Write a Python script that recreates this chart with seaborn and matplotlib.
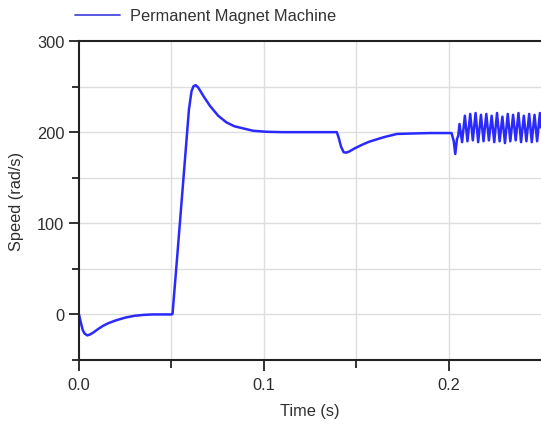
import numpy as np
import pandas as pd
import matplotlib
matplotlib.use("Agg")
import matplotlib.pyplot as plt
import seaborn as sns

# ---- data ----
time_s = [0.0, 0.001, 0.002, 0.003, 0.0045, 0.006, 0.008, 0.010, 0.013, 0.016,
          0.020, 0.025, 0.030, 0.035, 0.040, 0.045, 0.0500, 0.0506, 0.0530, 0.0560,
          0.0595, 0.0609, 0.0620, 0.0632, 0.0645, 0.0672, 0.0708, 0.0753, 0.0798, 0.0840,
          0.0870, 0.0942, 0.1015, 0.110, 0.120, 0.130,
          0.1395, 0.1405, 0.1418, 0.1432, 0.1445, 0.146, 0.149, 0.153, 0.157, 0.161,
          0.165, 0.169, 0.172, 0.180, 0.190, 0.2016, 0.2028, 0.2036, 0.2045, 0.2052]
speed = [0.0, -9.0, -17.0, -21.0, -23.0, -22.0, -19.5, -16.5, -12.5, -9.5,
         -6.5, -3.5, -1.5, -0.5, 0.0, 0.0, 0.0, 0.5, 60.0, 136.0,
         225.0, 245.0, 250.5, 251.5, 249.0, 240.0, 229.0, 218.0, 210.7, 206.5,
         205.0, 201.5, 200.4, 200.0, 200.0, 200.0,
         200.0, 194.0, 184.0, 178.0, 177.5, 178.5, 182.0, 186.0, 189.5, 192.0,
         194.5, 196.5, 198.0, 198.5, 199.0, 199.0, 190.0, 176.0, 192.0, 196.0]

osc_time = [0.2059, 0.2073, 0.2088, 0.2102, 0.2117, 0.2131, 0.2146, 0.2160,
            0.2175, 0.2189, 0.2204, 0.2218, 0.2233, 0.2247, 0.2262, 0.2276,
            0.2291, 0.2305, 0.2320, 0.2334, 0.2349, 0.2363, 0.2378, 0.2392,
            0.2407, 0.2421, 0.2436, 0.2450, 0.2465, 0.2479, 0.2494, 0.2500]
osc_speed = [209.0, 189.0, 218.0, 190.0, 220.0, 191.0, 221.0, 189.0,
             219.0, 190.0, 220.0, 191.0, 218.0, 189.0, 221.0, 190.0,
             217.0, 188.0, 220.0, 190.0, 219.0, 191.0, 221.0, 189.0,
             218.0, 190.0, 220.0, 189.0, 219.0, 190.0, 221.0, 205.0]

series_name = "Permanent Magnet Machine"
x_ticks = [0.0, 0.1, 0.2]
x_tick_labels = ["0.0", "0.1", "0.2"]
y_ticks = [0, 100, 200, 300]
y_tick_labels = ["0", "100", "200", "300"]

df = pd.DataFrame({"Time (s)": time_s + osc_time,
                   "Speed (rad/s)": speed + osc_speed,
                   "series": series_name})

# ---- style ----
sns.set_style("white")
plt.rcParams["font.family"] = ["Liberation Sans", "DejaVu Sans"]
FS = 11.8
TXT = "#2e2e2e"

fig = plt.figure(figsize=(5.41, 4.27), dpi=100)
ax = fig.add_axes([79 / 541, 1 - 361 / 427, 1 - 79 / 541, (361 - 42) / 427])

sns.lineplot(data=df, x="Time (s)", y="Speed (rad/s)", hue="series",
             palette=["#2a2aff"], sort=False, estimator=None, lw=1.8, ax=ax)

ax.set_xlim(0, 0.25)
ax.set_ylim(-50, 300)

# grid
for gx in [0.05, 0.1, 0.15, 0.2]:
    ax.axvline(gx, color="#dedede", lw=1.0, zorder=0)
for gy in [0, 50, 100, 150, 200, 250]:
    ax.axhline(gy, color="#dedede", lw=1.0, zorder=0)

ax.set_xticks(x_ticks)
ax.set_xticklabels(x_tick_labels)
ax.set_xticks([0.05, 0.15], minor=True)
ax.set_yticks(y_ticks)
ax.set_yticklabels(y_tick_labels)
ax.set_yticks([-50, 50, 150, 250], minor=True)
ax.tick_params(axis="x", which="major", bottom=True, direction="out", length=8,
               width=1.3, color="#222222", labelsize=FS, labelcolor=TXT, pad=4)
ax.tick_params(axis="x", which="minor", bottom=True, direction="out", length=6,
               width=1.3, color="#222222")
ax.tick_params(axis="y", which="major", left=True, direction="out", length=7.5,
               width=1.3, color="#222222", labelsize=FS, labelcolor=TXT, pad=3)
ax.tick_params(axis="y", which="minor", left=True, direction="out", length=4.8,
               width=1.3, color="#222222")

for side in ["left", "bottom", "top"]:
    ax.spines[side].set_visible(True)
    ax.spines[side].set_color("#222222")
    ax.spines[side].set_linewidth(1.5)
ax.spines["right"].set_visible(False)

ax.set_xlabel("Time (s)", fontsize=FS, color=TXT, labelpad=8)
ax.set_ylabel("Speed (rad/s)", fontsize=FS, color=TXT, labelpad=9)

leg = ax.legend(loc="lower left", bbox_to_anchor=(-0.009, 1.055), frameon=False,
                borderpad=0, borderaxespad=0, handlelength=2.75,
                handletextpad=0.6, fontsize=FS, title=None)
for txt in leg.get_texts():
    txt.set_color("#333333")
for ln in leg.get_lines():
    ln.set_linewidth(1.3)
    ln.set_color("#4a4ae0")

fig.savefig("out.png", dpi=100)
